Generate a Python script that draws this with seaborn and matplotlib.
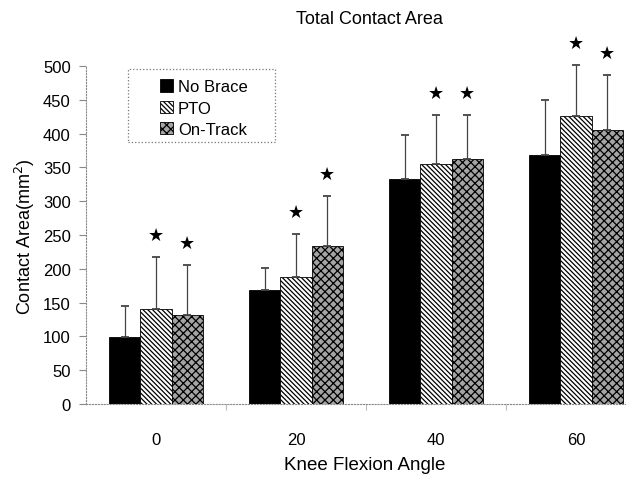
import numpy as np
import pandas as pd
import matplotlib
matplotlib.use('Agg')
import matplotlib.pyplot as plt
import matplotlib.patches as mpatches
import seaborn as sns

# ── Data ─────────────────────────────────────────────────────────────────────
angles     = ['0', '20', '40', '60']
conditions = ['No Brace', 'PTO', 'On-Track']

no_brace    = [99, 169, 333, 368]
no_brace_sd = [46, 32, 65, 81]
pto         = [140, 188, 355, 426]
pto_sd      = [77, 64, 73, 76]
on_track    = [131, 234, 362, 406]
on_track_sd = [74, 73, 66, 81]

# significance star above PTO / On-Track bars
sig_no_brace = [False, False, False, False]
sig_pto      = [True, True, True, True]
sig_on_track = [True, True, True, True]

means = [no_brace, pto, on_track]
sds   = [no_brace_sd, pto_sd, on_track_sd]
sigs  = [sig_no_brace, sig_pto, sig_on_track]

df = pd.DataFrame({
    'angle': np.tile(angles, len(conditions)),
    'cond':  np.repeat(conditions, len(angles)),
    'area':  np.concatenate(means),
})

# ── Style ────────────────────────────────────────────────────────────────────
sns.set_theme(style='white')
plt.rcParams['font.family'] = ['Liberation Sans', 'DejaVu Sans']
plt.rcParams.update({'hatch.linewidth': 0.9, 'text.color': 'black',
                     'xtick.color': 'black', 'ytick.color': 'black'})

fig = plt.figure(figsize=(6.34, 4.81), dpi=100)
ax = fig.add_axes([86 / 634, 76 / 481, 539 / 634, 338 / 481])

sns.barplot(data=df, x='angle', y='area', hue='cond', order=angles,
            hue_order=conditions, errorbar=None, width=0.67, ax=ax,
            palette=['black', 'white', '#a8a8a8'], saturation=1,
            edgecolor='black', linewidth=0.6, legend=False)

styles = {'No Brace': dict(fc='black', hatch=None),
          'PTO': dict(fc='white', hatch='\\' * 7),
          'On-Track': dict(fc='#a4a4a4', hatch='xxxx')}

for cont, cond, m, s, sg in zip(ax.containers, conditions, means, sds, sigs):
    st = styles[cond]
    for bar in cont:
        bar.set_facecolor(st['fc'])
        if st['hatch']:
            bar.set_hatch(st['hatch'])
        bar.set_edgecolor('black')
    xs = [b.get_x() + b.get_width() / 2 for b in cont]
    ax.errorbar(xs, m, yerr=[np.zeros(len(s)), s], fmt='none',
                ecolor='#444444', elinewidth=0.9, capsize=3, capthick=1.3,
                clip_on=False, zorder=4)
    for x, y, e, flag in zip(xs, m, s, sg):
        if flag:
            ax.annotate('★', xy=(x, y + e), xytext=(0, 16),
                        textcoords='offset points', ha='center', va='center',
                        fontsize=13, family='DejaVu Sans', annotation_clip=False)

# legend: dotted box drawn separately, entries placed inside it
box = mpatches.Rectangle((0.078, 0.775), 0.273, 0.216, transform=ax.transAxes,
                         fill=False, edgecolor='#777777', linestyle=':',
                         linewidth=0.9, clip_on=False, zorder=5)
ax.add_patch(box)
leg_handles = [mpatches.Patch(facecolor=styles[c]['fc'], edgecolor='black',
                              hatch=styles[c]['hatch'], linewidth=0.6)
               for c in conditions]
ax.legend(leg_handles, conditions, loc='upper left',
          bbox_to_anchor=(0.11, 1.005), frameon=False, fontsize=12,
          handlelength=0.75, handleheight=0.75, handletextpad=0.3,
          borderpad=0.4, labelspacing=0.38)

# axes
ax.set_ylim(0, 500)
ax.set_xlim(-0.5, 3.35)
ax.set_yticks(range(0, 501, 50))
ax.set_xlabel('')
ax.set_ylabel('')
for side in ['top', 'right']:
    ax.spines[side].set_visible(False)
for side in ['left', 'bottom']:
    ax.spines[side].set_color('#888888')
    ax.spines[side].set_linestyle(':')
    ax.spines[side].set_linewidth(0.8)
ax.tick_params(axis='y', left=True, length=5, width=0.8, color='#888888',
               labelcolor='black', labelsize=12, pad=6)
ax.tick_params(axis='x', bottom=False, labelcolor='black', labelsize=12, pad=14)
ax.set_xticks([0.5, 1.5, 2.5], minor=True)
ax.tick_params(axis='x', which='minor', bottom=True, length=4,
               color='#bbbbbb', width=0.8)

fig.text(369 / 634, 1 - 20 / 481, 'Total Contact Area', ha='center',
         va='center', fontsize=13)
fig.text(365 / 634, 1 - 466 / 481, 'Knee Flexion Angle', ha='center',
         va='center', fontsize=13.5)
fig.text(25 / 634, 1 - 237 / 481, 'Contact Area(mm$^2$)', ha='center',
         va='center', rotation=90, fontsize=13)

fig.savefig('out.png', dpi=100)
